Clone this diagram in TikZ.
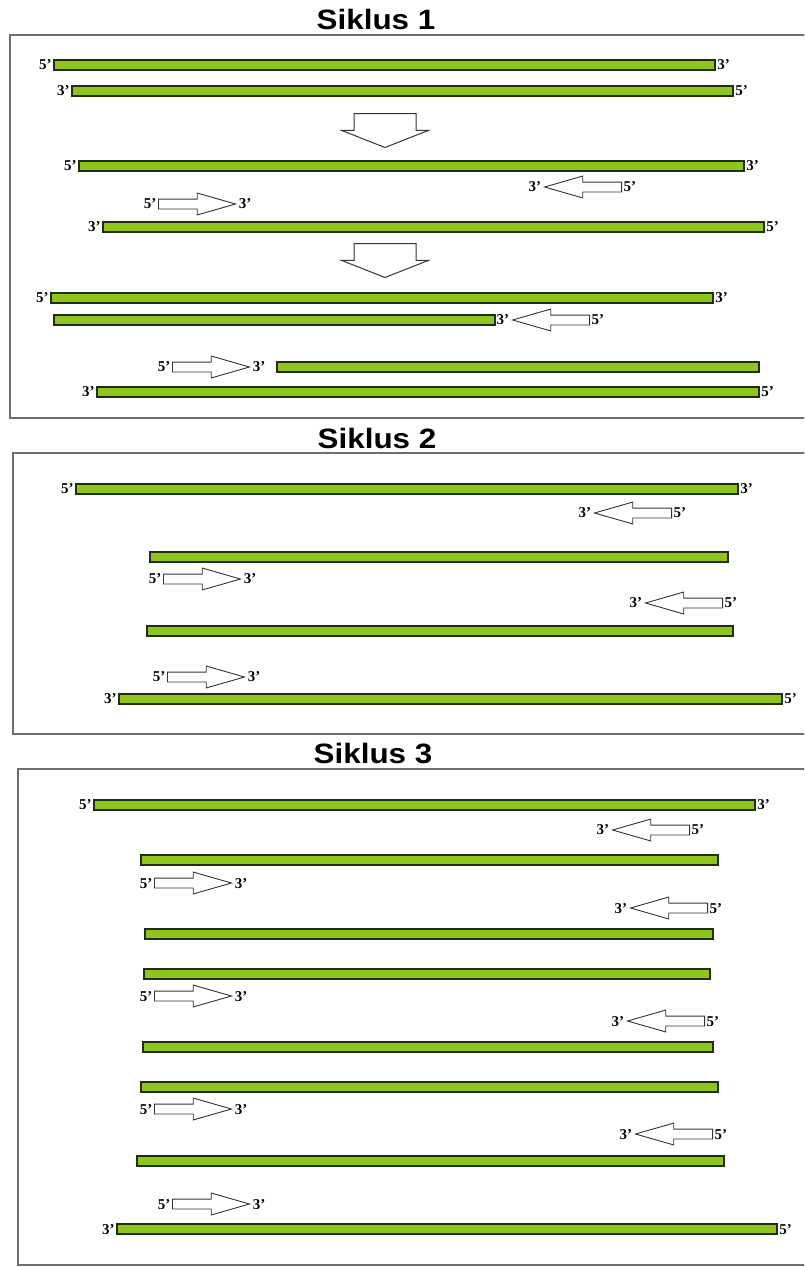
\documentclass[tikz,border=0pt]{standalone}
\usepackage{graphicx}
\usepackage{fontspec}
\setmainfont{Liberation Serif}
\newfontfamily\titlefont{Liberation Sans}
\usetikzlibrary{shapes.arrows}

\definecolor{strandfill}{RGB}{141,196,30}
\definecolor{strandline}{RGB}{35,45,15}
\definecolor{framegray}{RGB}{110,110,110}

\tikzset{
  dnabar/.style={rectangle, draw=strandline, fill=strandfill, line width=1.3pt,
    minimum height=10pt, inner sep=0pt},
  endlbl/.style={font=\fontsize{15}{15}\selectfont\bfseries, inner sep=1.5pt, text depth=0pt},
  primer/.style={single arrow, draw=black!80, fill=white, line width=0.9pt,
    minimum height=77pt, inner xsep=0pt, inner ysep=4.5pt,
    single arrow head extend=6pt, single arrow tip angle=32, single arrow head indent=0pt},
  flowarrow/.style={single arrow, draw=black!80, fill=white, line width=1pt,
    minimum height=34pt, inner xsep=0pt, inner ysep=30.5pt,
    single arrow head extend=12.5pt, single arrow tip angle=137, rotate=-90, anchor=tail},
  panel/.style={draw=framegray, line width=1.8pt},
  cycletitle/.style={font=\titlefont\fontsize{28}{28}\selectfont\bfseries, anchor=base, inner sep=0pt}
}

% strand bar: name, left x, right x, y
\newcommand\dnabar[4]{\node[dnabar, minimum width={#3-#2}] (#1) at ({(#2+#3)/2},#4) {};}
% end labels on both sides of a strand: name, left text, right text
\newcommand\strandends[3]{%
  \node[endlbl, anchor=east] (#1-l) at (#1.west) {#2};
  \node[endlbl, anchor=west] (#1-r) at (#1.east) {#3};}
% primer pointing right: name, tail x, y
\newcommand\primerR[3]{%
  \node[primer, anchor=tail] (#1) at (#2,#3) {};
  \node[endlbl, anchor=east] (#1-5) at (#1.tail) {5’};
  \node[endlbl, anchor=west] (#1-3) at (#1.tip) {3’};}
% primer pointing left: name, tail x, y
\newcommand\primerL[3]{%
  \node[primer, rotate=180, anchor=tail] (#1) at (#2,#3) {};
  \node[endlbl, anchor=east] (#1-3) at (#1.tip) {3’};
  \node[endlbl, anchor=west] (#1-5) at (#1.tail) {5’};}

\begin{document}
\begin{tikzpicture}[x=1pt, y=-1pt]
\useasboundingbox (0,0) rectangle (804,1267);
\clip (0,0) rectangle (804,1267);

% ---------- cycle 1 ----------
\node[cycletitle] (t1) at (376,29) {\scalebox{1.12}[1]{Siklus 1}};
\draw[panel] (10,35) rectangle (830,418);

\dnabar{s1a}{54}{715}{65}   \strandends{s1a}{5’}{3’}
\dnabar{s1b}{72}{733}{91}   \strandends{s1b}{3’}{5’}
\node[flowarrow] (f1) at (385,113) {};
\dnabar{s1c}{79}{744}{166}  \strandends{s1c}{5’}{3’}
\primerL{p1a}{622}{187}
\primerR{p1b}{158}{204}
\dnabar{s1d}{103}{764}{227} \strandends{s1d}{3’}{5’}
\node[flowarrow] (f2) at (385,243) {};
\dnabar{s1e}{51}{713}{298}  \strandends{s1e}{5’}{3’}
\dnabar{s1f}{54}{495}{320}
\primerL{p1c}{590}{320}
\primerR{p1d}{172}{367}
\dnabar{s1g}{277}{759}{367}
\dnabar{s1h}{97}{759}{392}  \strandends{s1h}{3’}{5’}

% ---------- cycle 2 ----------
\node[cycletitle] (t2) at (377,448) {\scalebox{1.12}[1]{Siklus 2}};
\draw[panel] (13,453) rectangle (830,734);

\dnabar{s2a}{76}{738}{489}  \strandends{s2a}{5’}{3’}
\primerL{p2a}{672}{513}
\dnabar{s2b}{150}{728}{557}
\primerR{p2b}{163}{579}
\primerL{p2c}{723}{603}
\dnabar{s2c}{147}{733}{631}
\primerR{p2d}{167}{677}
\dnabar{s2d}{119}{782}{699} \strandends{s2d}{3’}{5’}

% ---------- cycle 3 ----------
\node[cycletitle] (t3) at (373,763) {\scalebox{1.12}[1]{Siklus 3}};
\draw[panel] (18,769) rectangle (830,1265);

\dnabar{s3a}{94}{755}{805}  \strandends{s3a}{5’}{3’}
\primerL{p3a}{690}{830}
\dnabar{s3b}{141}{718}{860}
\primerR{p3b}{154}{883}
\primerL{p3c}{708}{908}
\dnabar{s3c}{145}{713}{934}
\dnabar{s3d}{144}{710}{974}
\primerR{p3d}{154}{996}
\primerL{p3e}{705}{1021}
\dnabar{s3e}{143}{713}{1047}
\dnabar{s3f}{141}{718}{1087}
\primerR{p3f}{154}{1109}
\primerL{p3g}{713}{1134}
\dnabar{s3g}{137}{724}{1161}
\primerR{p3h}{172}{1204}
\dnabar{s3h}{117}{777}{1229} \strandends{s3h}{3’}{5’}
\end{tikzpicture}
\end{document}
